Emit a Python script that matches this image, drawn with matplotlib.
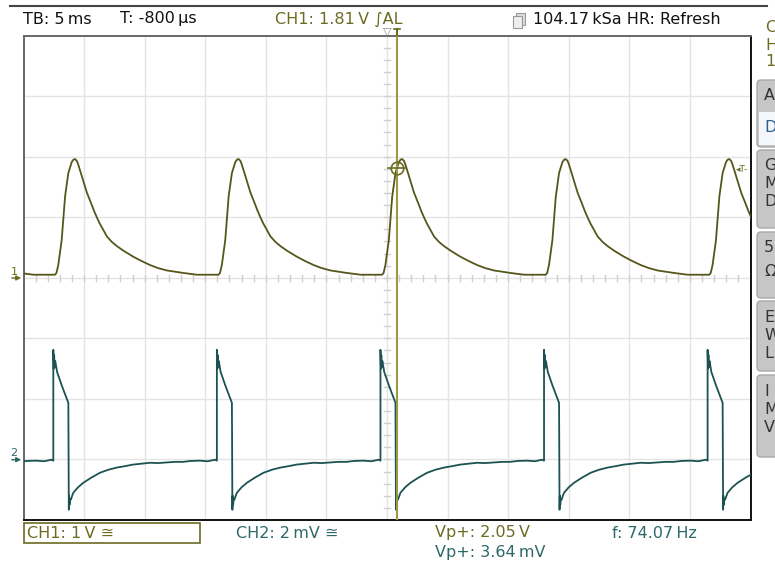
import numpy as np
import matplotlib.pyplot as plt
from matplotlib.patches import Rectangle, FancyBboxPatch

W, H = 775, 568

# one period of each channel, time in ms from the CH1 rising edge
ch1_t = [0.0, 0.12, 0.27, 0.55, 0.83, 1.10, 1.38, 1.52, 1.65, 1.80, 1.90, 2.06, 2.18, 2.30,
         2.47, 2.64, 2.82, 3.00, 3.23, 3.47, 3.68, 3.90, 4.29, 4.70, 5.12, 5.70, 6.44, 7.10,
         7.84, 8.50, 9.24, 9.90, 10.56, 11.72, 13.49]
ch1_v = [0.05, 0.08, 0.21, 0.62, 1.34, 1.73, 1.91, 1.95, 1.96, 1.93, 1.88, 1.78, 1.70, 1.62,
         1.51, 1.40, 1.31, 1.22, 1.10, 0.99, 0.90, 0.82, 0.68, 0.59, 0.52, 0.44, 0.35, 0.28,
         0.21, 0.16, 0.12, 0.10, 0.08, 0.05, 0.05]

ch2_t = [-0.14, -0.14, -0.10, -0.07, -0.03, 0.02, 0.17, 0.55, 0.97, 1.10, 1.14, 1.16, 1.20,
         1.24, 1.30, 1.51, 1.90, 2.34, 3.00, 3.71, 4.40, 5.09, 5.80, 6.44, 7.10, 7.84, 8.50,
         9.24, 9.90, 10.56, 11.20, 11.96, 12.60, 13.20, 13.35]
ch2_mv = [-0.04, 3.62, 3.00, 3.45, 3.05, 3.25, 2.89, 2.45, 2.00, 1.87, -1.66, -1.20, -1.50,
          -1.30, -1.33, -1.10, -0.92, -0.77, -0.60, -0.44, -0.34, -0.27, -0.22, -0.17, -0.14,
          -0.11, -0.12, -0.10, -0.08, -0.08, -0.05, -0.04, -0.06, -0.01, -0.04]

# CH1 rising edges on screen (ms from screen centre)
cycle_starts = [-40.9, -27.4, -13.9, -0.4, 13.1, 26.6]

trig_time = 0.8      # ms
trig_level = 1.81    # V
ch1_scale = 1.0      # V/div
ch2_scale = 2.0      # mV/div
ch2_offset = -3.0    # div

OLIVE = "#6b6b22"
OLIVE_TR = "#56561c"
OLIVE_LT = "#9a9a45"
TEAL = "#2d6868"
TEAL_TR = "#1c5252"


def tile(t, v, starts):
    tt, vv = [], []
    for s in starts:
        tt.extend(np.asarray(t) + s)
        vv.extend(v)
    return np.array(tt), np.array(vv)


fig = plt.figure(figsize=(W / 100, H / 100), dpi=100)
ax = fig.add_axes([23.5 / W, 1 - 520 / H, 727 / W, 484.5 / H])
ax.set_xlim(-30, 30)
ax.set_ylim(-4, 4)
ax.set_xticks([])
ax.set_yticks([])
for side in ["left", "top"]:
    ax.spines[side].set_color("#666666")
for side in ["right", "bottom"]:
    ax.spines[side].set_color("#111111")
for sp in ax.spines.values():
    sp.set_linewidth(1.4)

# graticule
for gx in range(-25, 30, 5):
    ax.axvline(gx, color="#e4e4e4", lw=1, zorder=0)
for gy in range(-3, 4):
    ax.axhline(gy, color="#e4e4e4", lw=1, zorder=0)
for mx in np.arange(-29, 30, 1):
    ax.plot([mx, mx], [-0.05, 0.05], color="#cfcfcf", lw=1, zorder=0)
for my in np.arange(-3.8, 4, 0.2):
    ax.plot([-0.25, 0.25], [my, my], color="#cfcfcf", lw=1, zorder=0)

t1, v1 = tile(ch1_t, ch1_v, cycle_starts)
t2, v2 = tile(ch2_t, ch2_mv, cycle_starts)
ax.plot(t1, v1 / ch1_scale, color=OLIVE_TR, lw=1.3, zorder=3)
ax.plot(t2, v2 / ch2_scale + ch2_offset, color=TEAL_TR, lw=1.3, zorder=3)

# trigger
ax.axvline(trig_time, color=OLIVE_LT, lw=1.5, zorder=4)
ax.plot([trig_time], [trig_level], "o", mfc="none", mec=OLIVE, mew=1.2, ms=9, zorder=5)
ax.plot([trig_time - 0.7, trig_time + 0.7], [trig_level, trig_level], color=OLIVE, lw=1.2, zorder=5)

# overlay in pixel coordinates for screen furniture
ov = fig.add_axes([0, 0, 1, 1], zorder=10)
ov.set_xlim(0, W)
ov.set_ylim(H, 0)
ov.axis("off")
ov.patch.set_visible(False)

ov.plot([10, 767], [6, 6], color="#444444", lw=1.5)

fs = 11.5
ov.text(23, 19, "TB: 5\u2009ms", fontsize=fs, color="#111111", va="center")
ov.text(120, 19, "T: -800\u2009µs", fontsize=fs, color="#111111", va="center")
ov.text(275, 19, "CH1: 1.81\u2009V \u222bAL", fontsize=fs, color=OLIVE, va="center")
ov.add_patch(Rectangle((516, 13), 9, 12, fc="#dddddd", ec="#999999", lw=0.8))
ov.add_patch(Rectangle((513, 16), 9, 12, fc="#eeeeee", ec="#999999", lw=0.8))
ov.text(533, 19, "104.17\u2009kSa HR: Refresh", fontsize=fs, color="#111111", va="center")

# top markers
ov.text(387, 31, "\u25bd", fontsize=8, color="#888888", ha="center", va="center")
ov.plot([397, 397], [29, 35], color=OLIVE, lw=1.5)
ov.plot([394, 400], [29, 29], color=OLIVE, lw=1.2)

# ground markers
ov.text(14, 272, "1", fontsize=8, color=OLIVE, ha="center", va="center")
ov.annotate("", xy=(24, 278), xytext=(9, 278),
            arrowprops=dict(arrowstyle="-|>", color=OLIVE, lw=1, mutation_scale=7))
ov.text(14, 453, "2", fontsize=8, color=TEAL, ha="center", va="center")
ov.annotate("", xy=(24, 459.7), xytext=(9, 459.7),
            arrowprops=dict(arrowstyle="-|>", color=TEAL, lw=1, mutation_scale=7))

# trigger level marker on right edge
ov.text(742, 170, "\u25c2T-", fontsize=6.5, color=OLIVE, ha="center", va="center")

# partial side panel (cut off at the right edge, as on the screen)
for y, s in [(28, "C"), (45, "H"), (61, "1")]:
    ov.text(765, y, s, fontsize=fs, color=OLIVE, va="center")
for y0, h in [(80, 67), (150, 78), (232, 66), (301, 70), (375, 82)]:
    ov.add_patch(FancyBboxPatch((757, y0), 30, h, boxstyle="round,pad=0,rounding_size=4",
                                fc="#c6c6c6", ec="#a8a8a8", lw=1))
ov.add_patch(Rectangle((759, 112), 28, 33, fc="#f4f7fa", ec="none"))
keys = [(95, "A", "#333333"), (128, "D", "#2f5f8f"), (166, "G", "#333333"),
        (184, "M", "#333333"), (202, "D", "#333333"), (247, "5", "#333333"),
        (271, "\u03a9", "#333333"), (318, "E", "#333333"), (336, "W", "#333333"),
        (354, "L", "#333333"), (392, "I", "#333333"), (410, "M", "#333333"),
        (428, "V", "#333333")]
for y, s, c in keys:
    ov.text(764, y, s, fontsize=fs, color=c, va="center")

# bottom readouts
ov.add_patch(Rectangle((24, 523), 176, 20, fc="none", ec=OLIVE, lw=1.2))
ov.text(27, 533, "CH1: 1\u2009V \u2245", fontsize=fs, color=OLIVE, va="center")
ov.text(236, 533, "CH2: 2\u2009mV \u2245", fontsize=fs, color=TEAL, va="center")
ov.text(435, 533, "Vp+: 2.05\u2009V", fontsize=fs, color=OLIVE, va="center")
ov.text(612, 533, "f: 74.07\u2009Hz", fontsize=fs, color=TEAL, va="center")
ov.text(435, 553, "Vp+: 3.64\u2009mV", fontsize=fs, color=TEAL, va="center")

fig.savefig("out.png", dpi=100)
